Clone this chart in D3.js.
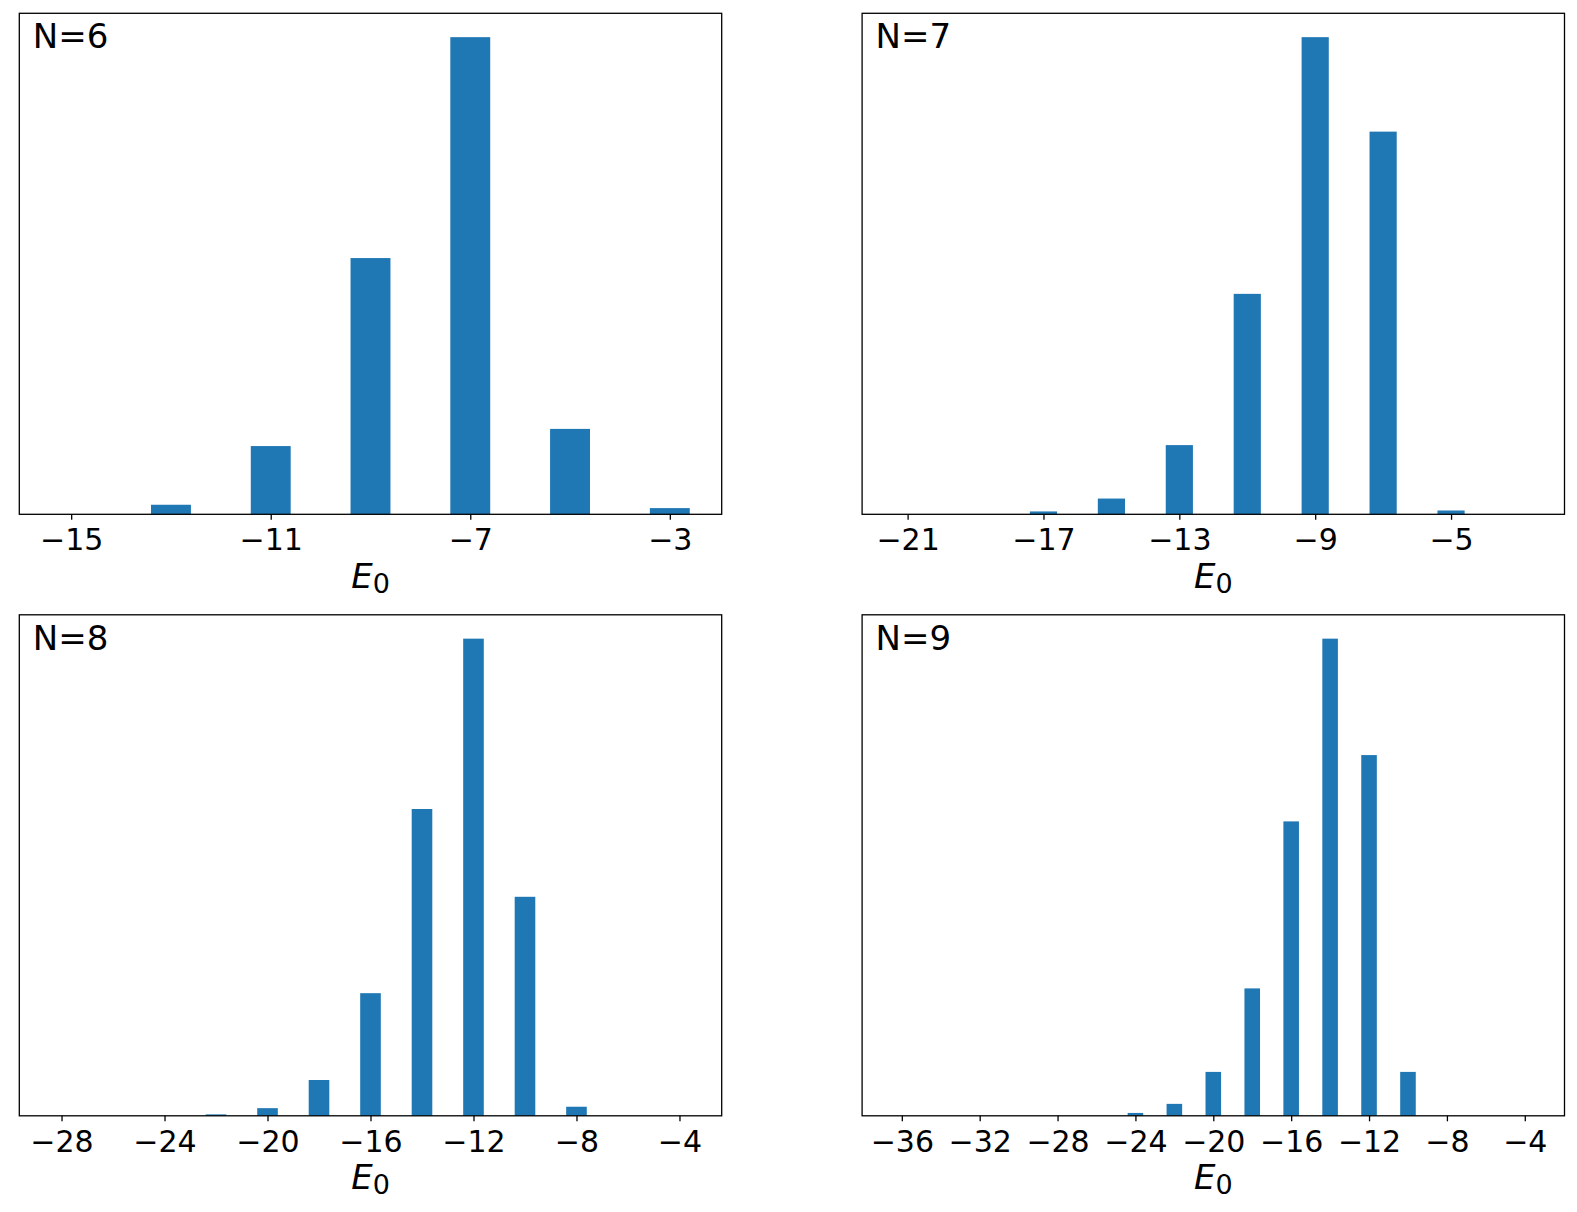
<!DOCTYPE html>
<html>
<head>
<meta charset="utf-8">
<script src="https://cdn.jsdelivr.net/npm/d3@7"></script>
<style>
  body { margin: 0; background: #fff; }
  text { font-family: "DejaVu Sans", sans-serif; fill: #000; }
</style>
</head>
<body>
<script>
// histogram bin centres (E0) and bar heights, tallest bar = 1000
var energiesN6 = [-15, -13, -11, -9, -7, -5, -3];
var countsN6   = [0, 20, 143, 537, 1000, 179, 13];
var ticksN6    = [-15, -11, -7, -3];

var energiesN7 = [-21, -19, -17, -15, -13, -11, -9, -7, -5, -3];
var countsN7   = [0, 0, 6, 33, 145, 462, 1000, 802, 8, 0];
var ticksN7    = [-21, -17, -13, -9, -5];

var energiesN8 = [-28, -26, -24, -22, -20, -18, -16, -14, -12, -10, -8, -6, -4];
var countsN8   = [0, 0, 0, 3, 16, 75, 257, 643, 1000, 459, 19, 0, 0];
var ticksN8    = [-28, -24, -20, -16, -12, -8, -4];

var energiesN9 = [-36, -34, -32, -30, -28, -26, -24, -22, -20, -18, -16, -14, -12, -10, -8, -6, -4];
var countsN9   = [0, 0, 0, 0, 0, 0, 6, 25, 92, 267, 617, 1000, 756, 92, 0, 0, 0];
var ticksN9    = [-36, -32, -28, -24, -20, -16, -12, -8, -4];

var panelLabels = ['N=6', 'N=7', 'N=8', 'N=9'];

var panels = [
  {e: energiesN6, c: countsN6, t: ticksN6},
  {e: energiesN7, c: countsN7, t: ticksN7},
  {e: energiesN8, c: countsN8, t: ticksN8},
  {e: energiesN9, c: countsN9, t: ticksN9}
];

var W = 1577, H = 1212;
var colX = [19.3, 862.1], rowY = [13.3, 614.8];
var pw = 702.4, ph = 501;
var barW = 0.8;   // bar width in E0 units
var blue = '#1f77b4';

var svg = d3.select('body').append('svg').attr('width', W).attr('height', H)

panels.forEach(function(p, i) {
  var ox = colX[i % 2], oy = rowY[Math.floor(i / 2)];
  var g = svg.append('g').attr('transform', `translate(${ox},${oy})`)

  // matplotlib style 5% margins around the bin range
  var lo = d3.min(p.e) - barW / 2, hi = d3.max(p.e) + barW / 2;
  var pad = (hi - lo) * 0.05;
  var x = d3.scaleLinear().domain([lo - pad, hi + pad]).range([0, pw])
  var y = d3.scaleLinear().domain([0, d3.max(p.c) * 1.05]).range([ph, 0])

  g.selectAll('rect.bar')
    .data(p.e.map((e, k) => ({e: e, c: p.c[k]})))
    .enter().append('rect')
      .attr('class', 'bar')
      .attr('x', d => x(d.e - barW / 2))
      .attr('width', d => x(d.e + barW / 2) - x(d.e - barW / 2))
      .attr('y', d => y(d.c))
      .attr('height', d => ph - y(d.c))
      .attr('fill', blue)

  var ax = g.append('g').attr('transform', `translate(0,${ph})`)
    .call(d3.axisBottom(x).tickValues(p.t).tickSize(5.5).tickSizeOuter(0).tickPadding(9)
      .tickFormat(v => String(v).replace('-', '\u2212')))
  ax.select('.domain').remove()
  ax.selectAll('line').attr('stroke', '#000').attr('stroke-width', 1.3)
  ax.selectAll('text').style('font-size', '30px').attr('fill', '#000')

  g.append('rect')
    .attr('width', pw).attr('height', ph)
    .attr('fill', 'none').attr('stroke', '#000').attr('stroke-width', 1.3)

  g.append('text')
    .attr('x', 13.5).attr('y', 35)
    .style('font-size', '34px')
    .text(panelLabels[i])

  var lab = g.append('text')
    .attr('x', pw / 2).attr('y', ph + 73.7)
    .attr('text-anchor', 'middle')
  lab.append('tspan').style('font-size', '34px').style('font-style', 'italic').text('E')
  lab.append('tspan').style('font-size', '27px').attr('dy', 5).text('0')
})
</script>
</body>
</html>
